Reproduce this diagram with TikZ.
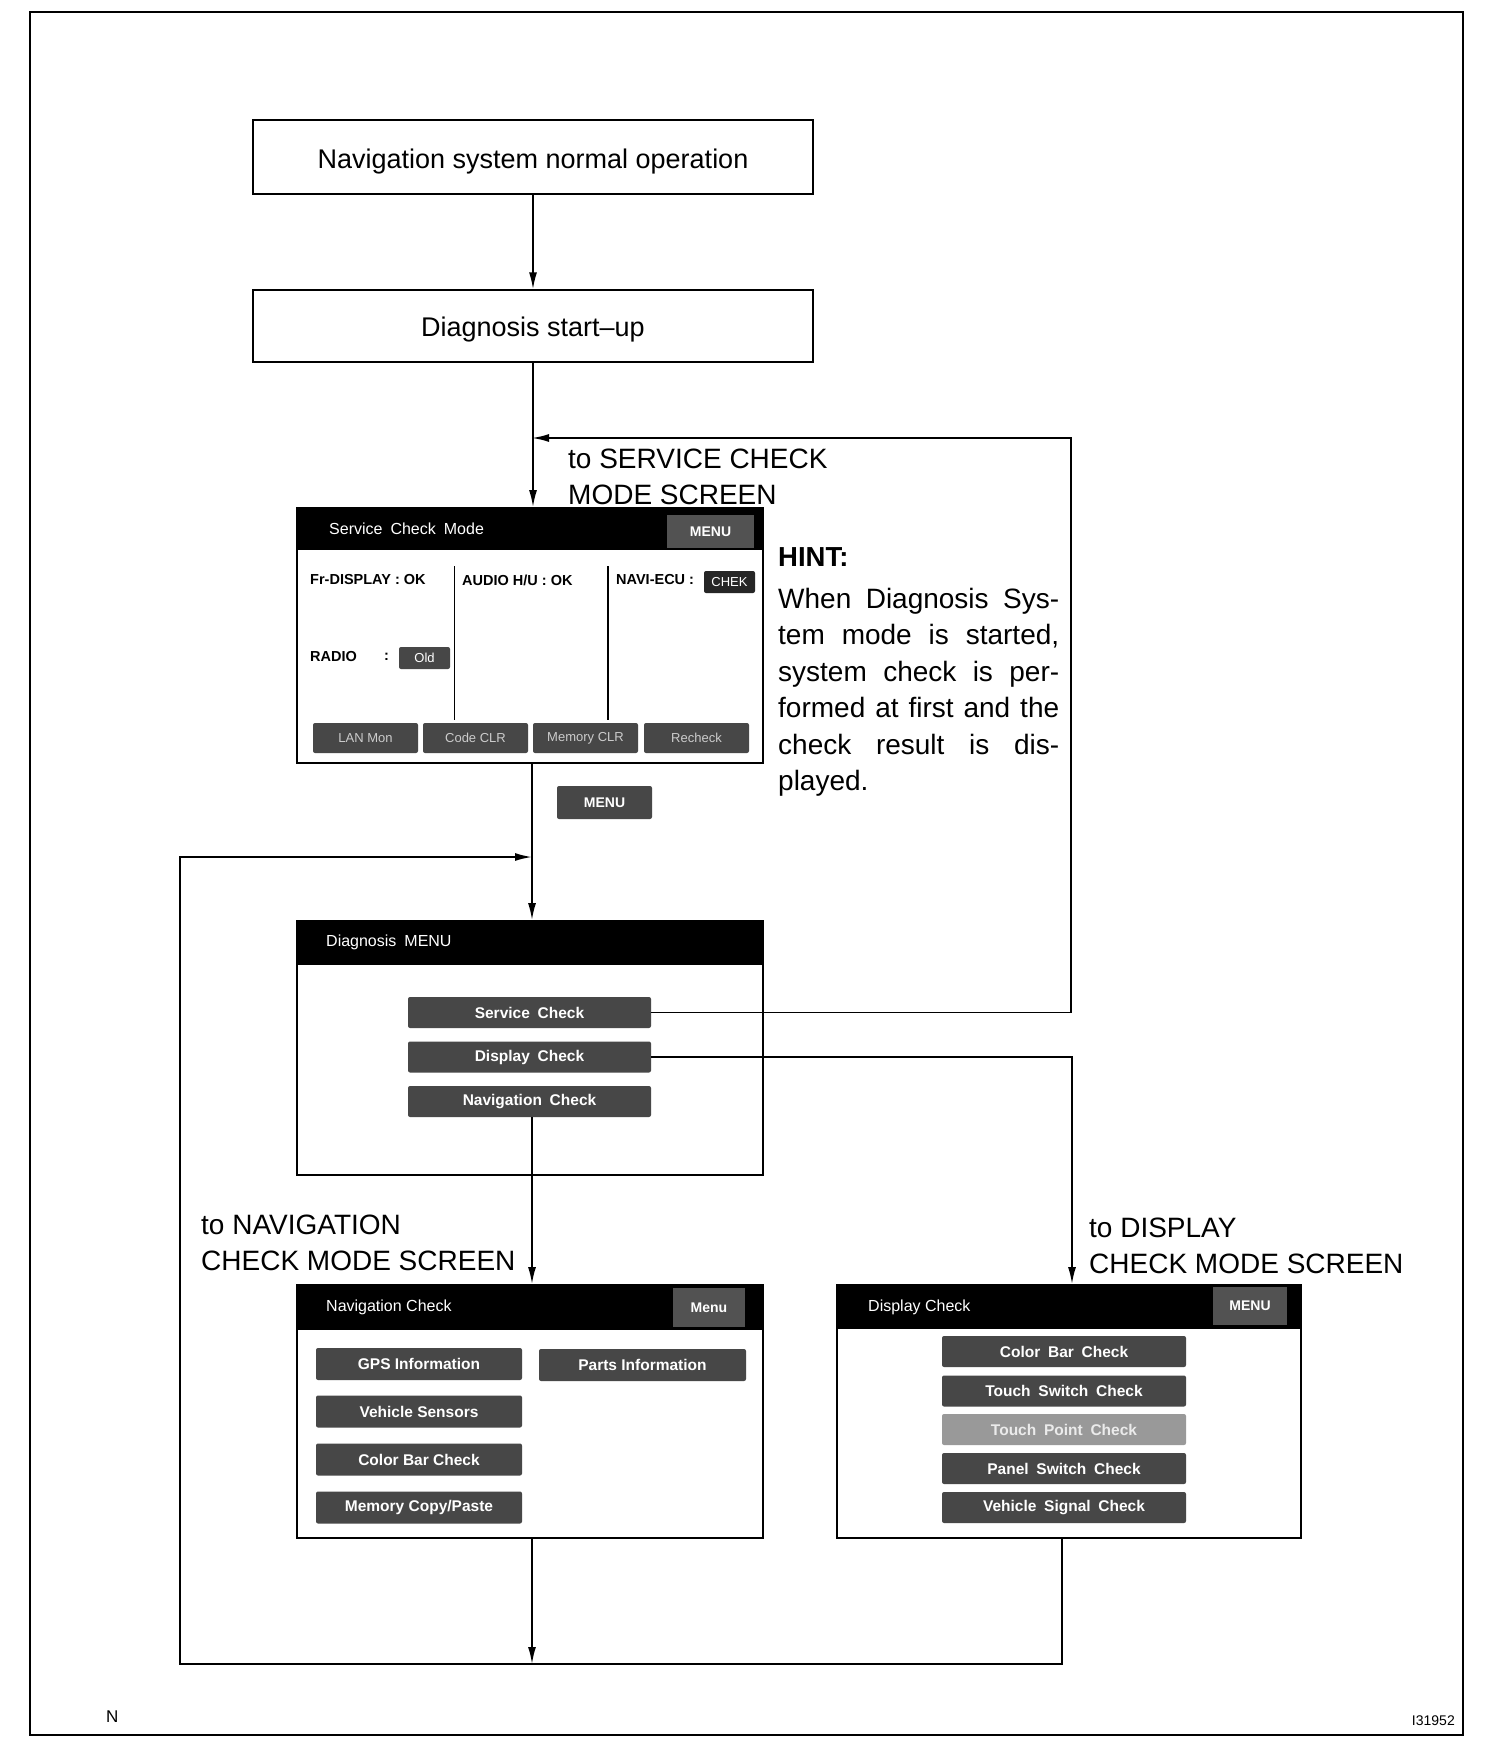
\documentclass[tikz,border=0pt]{standalone}
\usepackage{fontspec}
\setmainfont{Liberation Sans}
\usetikzlibrary{arrows.meta}
\newcommand{\fsz}[2]{\fontsize{#1}{#2}\selectfont}
\begin{document}
\begin{tikzpicture}[x=1pt,y=-1pt,
  conn/.style={line width=1.8pt},
  arr/.style={line width=1.8pt,-{Latex[length=17pt,width=8pt]}},
  flowbox/.style={draw,line width=1.3pt,minimum width=560pt,inner sep=0,font=\fsz{27}{32}},
  lbl/.style={align=left,inner sep=0,font=\fsz{28}{36}},
  screen/.style={draw,line width=1.8pt,minimum width=466pt,inner sep=0},
  bar/.style={fill=black,inner sep=0},
  ttl/.style={anchor=west,inner sep=0,text=white,font=\fsz{16}{19}},
  stat/.style={anchor=west,inner sep=0,font=\bfseries\fsz{14.5}{17}},
  btn/.style={fill=black!72,rounded corners=2pt,inner sep=0,text=white,font=\bfseries\fsz{15.5}{18}},
  sbtn/.style={fill=black!72,rounded corners=2pt,inner sep=0,text=black!20,font=\fsz{13}{15},minimum width=105pt,minimum height=30pt},
  mbtn/.style={fill=black!68,inner sep=0,text=white,font=\bfseries\fsz{14}{16}}
]
\useasboundingbox (0,0) rectangle (1504,1750);
\fill[white] (0,0) rectangle (1504,1750);
\draw[line width=2pt] (30,12) rectangle (1463,1735);

% flow boxes
\node[flowbox,minimum height=74pt] (box1) at (533,157) {\raisebox{-11.5pt}[0pt][0pt]{Navigation system normal operation}};
\node[flowbox,minimum height=72pt] (box2) at (533,326) {\raisebox{-10pt}[0pt][0pt]{Diagnosis start–up}};

% reference coordinates
\coordinate (mx) at (532,0);
\coordinate (svcR) at (1071,438);
\coordinate (dR) at (1072,0);
\coordinate (dB) at (1062,0);
\coordinate (LL) at (180,1664);
\coordinate (LT) at (180,857);
\coordinate (bot) at (0,1664);

% labels
\node[lbl,anchor=west] (lsvc) at (568,477) {to SERVICE CHECK\\MODE SCREEN};
\node[lbl,anchor=west] (lnav) at (201,1243) {to NAVIGATION\\CHECK MODE SCREEN};
\node[lbl,anchor=west] (ldisp) at (1089,1246) {to DISPLAY\\CHECK MODE SCREEN};

% HINT
\node[anchor=base west,inner sep=0,font=\bfseries\fsz{27.5}{33}] (hint) at (778,566) {HINT:};
\node[anchor=base west,inner sep=0] (hinttext) at (778,608) {\parbox[t]{281pt}{\fsz{28}{36.5}When Diagnosis Sys-\linebreak tem mode is started,\linebreak system check is per-\linebreak formed at first and the\linebreak check result is dis-\linebreak played.}};

% ---- Service Check Mode screen
\node[screen,minimum height=255pt] (svc) at (530,635.5) {};
\node[bar,minimum width=466pt,minimum height=43pt,anchor=north] (svcbar) at (svc.north) {};
\node[ttl] (svctitle) at (329,529) {Service\enspace Check\enspace Mode};
\node[mbtn,minimum width=87pt,minimum height=33pt] (svcmenu) at (710.5,531.5) {MENU};
\node[stat] (frd) at (310,580) {Fr-DISPLAY : OK};
\node[stat] (aud) at (462,580) {AUDIO H/U : OK};
\node[stat] (navi) at (616,580) {NAVI-ECU :};
\node[btn,fill=black!85,minimum width=51pt,minimum height=22pt,font=\fsz{13}{15}] (chek) at (729.5,582) {CHEK};
\node[stat] (radio) at (310,657) {RADIO};
\node[stat] (rcol) at (384,657) {:};
\node[btn,minimum width=51pt,minimum height=22pt,font=\fsz{13}{15}] (old) at (424.5,658) {Old};
\draw[line width=1pt] (454,566) -- (454,720);
\draw[line width=1.5pt] (608,566) -- (608,720);
\node[sbtn] (lan) at (365.5,738) {LAN Mon};
\node[sbtn] (code) at (475.5,738) {Code CLR};
\node[sbtn] (mem) at (585.5,738) {Memory CLR};
\node[sbtn] (rech) at (696.5,738) {Recheck};

% MENU button below
\node[btn,minimum width=95pt,minimum height=33pt,font=\bfseries\fsz{14}{16}] (menu2) at (604.5,802.5) {MENU};

% ---- Diagnosis MENU screen
\node[screen,minimum height=254pt] (diag) at (530,1048) {};
\node[bar,minimum width=466pt,minimum height=45pt,anchor=north] (diagbar) at (diag.north) {};
\node[ttl] (diagtitle) at (326,942) {Diagnosis\enspace MENU};
\node[btn,minimum width=243pt,minimum height=31pt] (svcbtn) at (529.5,1012.5) {Service\enspace Check};
\node[btn,minimum width=243pt,minimum height=31pt] (dispbtn) at (529.5,1057) {Display\enspace Check};
\node[btn,minimum width=243pt,minimum height=31pt] (navbtn) at (529.5,1101.5) {Navigation\enspace Check};

% ---- Navigation Check screen
\node[screen,minimum height=253pt] (nav) at (530,1411.5) {};
\node[bar,minimum width=466pt,minimum height=46pt,anchor=north] (navbar) at (nav.north) {};
\node[ttl] (navtitle) at (326,1307) {Navigation Check};
\node[mbtn,minimum width=72pt,minimum height=39pt] (navmenu) at (709,1307.5) {Menu};
\node[btn,minimum width=206pt,minimum height=32pt] (gps) at (419,1364) {GPS Information};
\node[btn,minimum width=207pt,minimum height=32pt] (parts) at (642.5,1365) {Parts Information};
\node[btn,minimum width=206pt,minimum height=32pt] (vs) at (419,1411.5) {Vehicle Sensors};
\node[btn,minimum width=206pt,minimum height=32pt] (cbc) at (419,1459.5) {Color Bar Check};
\node[btn,minimum width=206pt,minimum height=32pt] (mcp) at (419,1507.5) {Memory Copy/Paste};

% ---- Display Check screen
\node[screen,minimum width=464pt,minimum height=253pt] (disp) at (1069,1411.5) {};
\node[bar,minimum width=464pt,minimum height=45pt,anchor=north] (dispbar) at (disp.north) {};
\node[ttl] (disptitle) at (868,1307) {Display Check};
\node[mbtn,minimum width=74pt,minimum height=38pt] (dispmenu) at (1250,1306) {MENU};
\node[btn,minimum width=244pt,minimum height=31pt] (d1) at (1064,1351.5) {Color\enspace Bar\enspace Check};
\node[btn,minimum width=244pt,minimum height=31pt] (d2) at (1064,1391) {Touch\enspace Switch\enspace Check};
\node[btn,fill=black!40,text=black!8,minimum width=244pt,minimum height=31pt] (d3) at (1064,1429.5) {Touch\enspace Point\enspace Check};
\node[btn,minimum width=244pt,minimum height=31pt] (d4) at (1064,1468.5) {Panel\enspace Switch\enspace Check};
\node[btn,minimum width=244pt,minimum height=31pt] (d5) at (1064,1507.5) {Vehicle\enspace Signal\enspace Check};

% ---- connectors
\draw[arr] (box1.south) -- (box2.north);
\draw[arr] (box2.south) -- (box2.south |- svc.north);
\draw[arr] (svcbtn.east) -| (svcR) -- (svcR -| mx);
\draw[arr] (svc.south -| mx) -- (diag.north -| mx);
\draw[arr] (dispbtn.east) -| (disp.north -| dR);
\draw[arr] (navbtn.south -| mx) -- (nav.north -| mx);
\draw[arr] (nav.south -| mx) -- (bot -| mx);
\draw[arr] (disp.south -| dB) |- (LL) -- (LT) -- (LT -| mx);

% footer
\node[anchor=west,inner sep=0,font=\fsz{17}{20}] (fn) at (106,1717) {N};
\node[anchor=east,inner sep=0,font=\fsz{14}{16}] (fid) at (1455,1721) {I31952};
\end{tikzpicture}
\end{document}
